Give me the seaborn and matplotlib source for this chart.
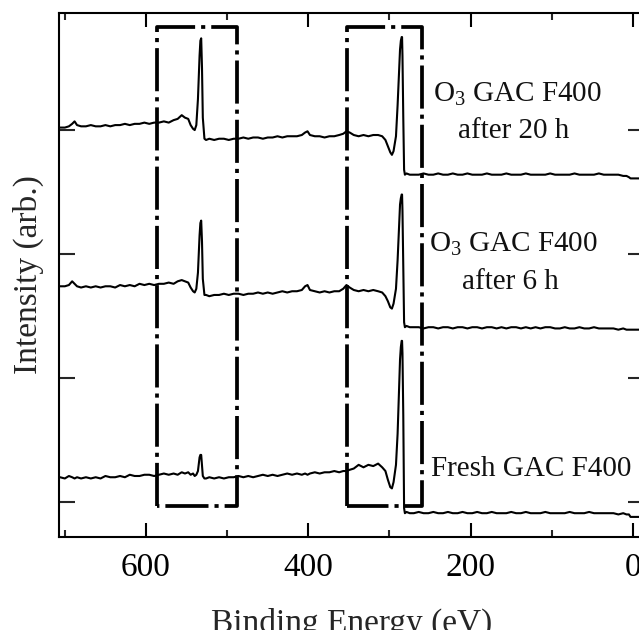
import matplotlib
matplotlib.use("Agg")
import matplotlib.pyplot as plt
import seaborn as sns
import pandas as pd

# Binding energy grid (eV), shared by the three survey spectra
energy = [
    706, 700, 695, 691, 688, 685, 680, 674, 668, 662,
    656, 650, 644, 638, 632, 626, 620, 614, 608, 602,
    596, 590, 584, 578, 572, 566, 561, 556, 552, 548,
    545, 542, 540, 538, 536, 534, 533, 532, 531, 530,
    528, 526, 522, 516, 510, 504, 498, 492, 486, 480,
    474, 468, 462, 456, 450, 444, 438, 432, 426, 420,
    414, 408, 404, 401, 398, 392, 386, 380, 374, 368,
    362, 357, 353, 349, 344, 338, 332, 326, 320, 314,
    309, 305, 302, 299, 297, 295, 292, 290, 288, 287,
    286, 285, 284.5, 284, 283, 282, 281, 279, 275, 270,
    264, 258, 252, 246, 240, 234, 228, 222, 216, 210,
    204, 198, 192, 186, 180, 174, 168, 162, 156, 150,
    144, 138, 132, 126, 120, 114, 108, 102, 96, 90,
    84, 78, 72, 66, 60, 54, 48, 42, 36, 30,
    24, 18, 12, 8, 5, 3, 1, -2, -5, -8,
]

# Stacked intensities (arb.), each spectrum already carries its vertical offset
fresh = [
    0.20, 0.19, 0.21, 0.20, 0.19, 0.20, 0.19, 0.20, 0.19, 0.20,
    0.19, 0.21, 0.20, 0.20, 0.21, 0.20, 0.22, 0.21, 0.21, 0.22,
    0.22, 0.21, 0.22, 0.23, 0.22, 0.23, 0.22, 0.24, 0.23, 0.24,
    0.22, 0.23, 0.21, 0.22, 0.25, 0.36, 0.38, 0.38, 0.30, 0.21,
    0.19, 0.19, 0.20, 0.19, 0.20, 0.19, 0.20, 0.20, 0.21, 0.20,
    0.21, 0.20, 0.21, 0.22, 0.21, 0.22, 0.21, 0.22, 0.23, 0.22,
    0.23, 0.22, 0.23, 0.22, 0.23, 0.24, 0.23, 0.24, 0.24, 0.25,
    0.24, 0.25, 0.25, 0.26, 0.27, 0.30, 0.28, 0.30, 0.29, 0.31,
    0.28, 0.25, 0.18, 0.12, 0.11, 0.16, 0.30, 0.55, 0.95, 1.15,
    1.25, 1.30, 1.30, 1.20, 0.70, -0.05, -0.09, -0.08, -0.09, -0.09,
    -0.08, -0.09, -0.09, -0.08, -0.09, -0.09, -0.08, -0.09, -0.09, -0.08,
    -0.09, -0.09, -0.08, -0.09, -0.09, -0.08, -0.09, -0.09, -0.09, -0.08,
    -0.09, -0.09, -0.08, -0.09, -0.09, -0.09, -0.08, -0.09, -0.09, -0.09,
    -0.09, -0.08, -0.09, -0.09, -0.09, -0.08, -0.09, -0.09, -0.09, -0.09,
    -0.09, -0.10, -0.09, -0.10, -0.10, -0.12, -0.12, -0.12, -0.12, -0.12,
]

after_6h = [
    1.74, 1.74, 1.75, 1.78, 1.76, 1.74, 1.73, 1.74, 1.73, 1.74,
    1.73, 1.74, 1.74, 1.73, 1.75, 1.74, 1.75, 1.74, 1.76, 1.75,
    1.76, 1.75, 1.76, 1.76, 1.77, 1.76, 1.78, 1.79, 1.78, 1.77,
    1.73, 1.70, 1.69, 1.72, 1.85, 2.15, 2.25, 2.27, 2.10, 1.80,
    1.67, 1.67, 1.66, 1.67, 1.67, 1.68, 1.67, 1.68, 1.68, 1.67,
    1.68, 1.68, 1.69, 1.68, 1.69, 1.68, 1.69, 1.70, 1.69, 1.70,
    1.70, 1.71, 1.74, 1.75, 1.71, 1.70, 1.69, 1.70, 1.69, 1.70,
    1.70, 1.72, 1.75, 1.73, 1.71, 1.70, 1.71, 1.70, 1.71, 1.70,
    1.69, 1.66, 1.62, 1.57, 1.56, 1.60, 1.72, 1.95, 2.25, 2.40,
    2.45, 2.48, 2.48, 2.35, 1.90, 1.45, 1.41, 1.42, 1.41, 1.41,
    1.41, 1.40, 1.41, 1.41, 1.40, 1.41, 1.41, 1.40, 1.41, 1.41,
    1.40, 1.41, 1.41, 1.40, 1.41, 1.41, 1.40, 1.41, 1.40, 1.41,
    1.41, 1.40, 1.41, 1.40, 1.41, 1.40, 1.41, 1.41, 1.40, 1.40,
    1.41, 1.40, 1.40, 1.41, 1.40, 1.40, 1.41, 1.40, 1.40, 1.40,
    1.40, 1.39, 1.40, 1.39, 1.39, 1.39, 1.39, 1.39, 1.39, 1.39,
]

after_20h = [
    3.02, 3.02, 3.03, 3.05, 3.07, 3.04, 3.03, 3.03, 3.04, 3.03,
    3.03, 3.04, 3.03, 3.04, 3.04, 3.05, 3.04, 3.05, 3.05, 3.06,
    3.05, 3.06, 3.06, 3.07, 3.06, 3.08, 3.09, 3.12, 3.10, 3.09,
    3.04, 3.01, 3.00, 3.04, 3.25, 3.60, 3.72, 3.74, 3.50, 3.10,
    2.93, 2.92, 2.93, 2.92, 2.93, 2.93, 2.92, 2.93, 2.93, 2.94,
    2.93, 2.94, 2.94, 2.93, 2.94, 2.94, 2.95, 2.94, 2.95, 2.95,
    2.95, 2.96, 2.98, 2.99, 2.96, 2.95, 2.95, 2.94, 2.95, 2.95,
    2.96, 2.97, 2.99, 2.98, 2.96, 2.95, 2.96, 2.95, 2.96, 2.96,
    2.95, 2.92, 2.87, 2.82, 2.80, 2.83, 2.95, 3.20, 3.50, 3.65,
    3.72, 3.75, 3.75, 3.60, 3.10, 2.68, 2.64, 2.65, 2.64, 2.64,
    2.64, 2.65, 2.64, 2.64, 2.65, 2.64, 2.64, 2.65, 2.64, 2.64,
    2.65, 2.64, 2.64, 2.64, 2.65, 2.64, 2.64, 2.64, 2.65, 2.64,
    2.64, 2.64, 2.65, 2.64, 2.64, 2.64, 2.64, 2.65, 2.64, 2.64,
    2.64, 2.64, 2.65, 2.64, 2.64, 2.64, 2.64, 2.65, 2.64, 2.64,
    2.64, 2.64, 2.63, 2.63, 2.62, 2.61, 2.61, 2.61, 2.61, 2.61,
]

# Highlighted windows: O 1s and C 1s regions (eV) and their vertical span
o1s_window = [586.5, 488.0]
c1s_window = [352.5, 260.0]
window_span = [-0.03, 3.83]

sns.set_style("ticks")
plt.rcParams["font.family"] = ["Liberation Serif", "DejaVu Serif"]
plt.rcParams["mathtext.fontset"] = "custom"
plt.rcParams["mathtext.rm"] = "Liberation Serif"
plt.rcParams["mathtext.it"] = "Liberation Serif:italic"

df = pd.DataFrame({"energy": energy, "fresh": fresh,
                   "6h": after_6h, "20h": after_20h})

fig = plt.figure(figsize=(6.39, 6.30), dpi=100)
ax = fig.add_axes([59 / 639, (630 - 537) / 630, (644 - 59) / 639, (537 - 13) / 630])

for col in ["fresh", "6h", "20h"]:
    sns.lineplot(data=df, x="energy", y=col, ax=ax, color="black",
                 linewidth=1.5, estimator=None, sort=False)

# Dash-dot boxes around the core-level regions
dashdot = (0, (11.5, 1.6, 1.1, 1.6))
for lo, hi in (o1s_window, c1s_window):
    ax.plot([lo, lo, hi, hi, lo],
            [window_span[0], window_span[1], window_span[1], window_span[0], window_span[0]],
            color="black", linewidth=2.7, linestyle=dashdot,
            dash_capstyle="butt", solid_capstyle="butt")

ax.set_xlim(707.2, -13.6)
ax.set_ylim(-0.282, 3.944)

ax.set_xticks([600, 400, 200, 0])
ax.set_xticks([700, 500, 300, 100], minor=True)
ax.set_yticks([0, 1, 2, 3])
ax.set_yticklabels([])
ax.tick_params(axis="x", which="major", direction="in", length=10, width=1.5,
               top=True, bottom=True, labelsize=24, pad=11, colors="black")
ax.tick_params(axis="x", which="minor", direction="in", length=5, width=1.5,
               top=True, bottom=True)
ax.tick_params(axis="y", which="major", direction="in", length=11.5, width=1.5,
               left=True, right=True)
for s in ax.spines.values():
    s.set_linewidth(1.5)
    s.set_color("black")

ax.set_xlabel("Binding Energy (eV)", fontsize=24, labelpad=18)
ax.set_ylabel("Intensity (arb.)", fontsize=24, labelpad=7)

lab = dict(fontsize=21, ha="center", va="baseline", color="#111111")
ax.text(141.7, 3.226, r"O$_{\mathrm{3}}$ GAC F400", **lab)
ax.text(146.6, 2.935, "after 20 h", **lab)
ax.text(146.6, 2.016, r"O$_{\mathrm{3}}$ GAC F400", **lab)
ax.text(151.6, 1.718, "after 6 h", **lab)
ax.text(125.7, 0.21, "Fresh GAC F400", **lab)

fig.savefig("out.png", dpi=100)
